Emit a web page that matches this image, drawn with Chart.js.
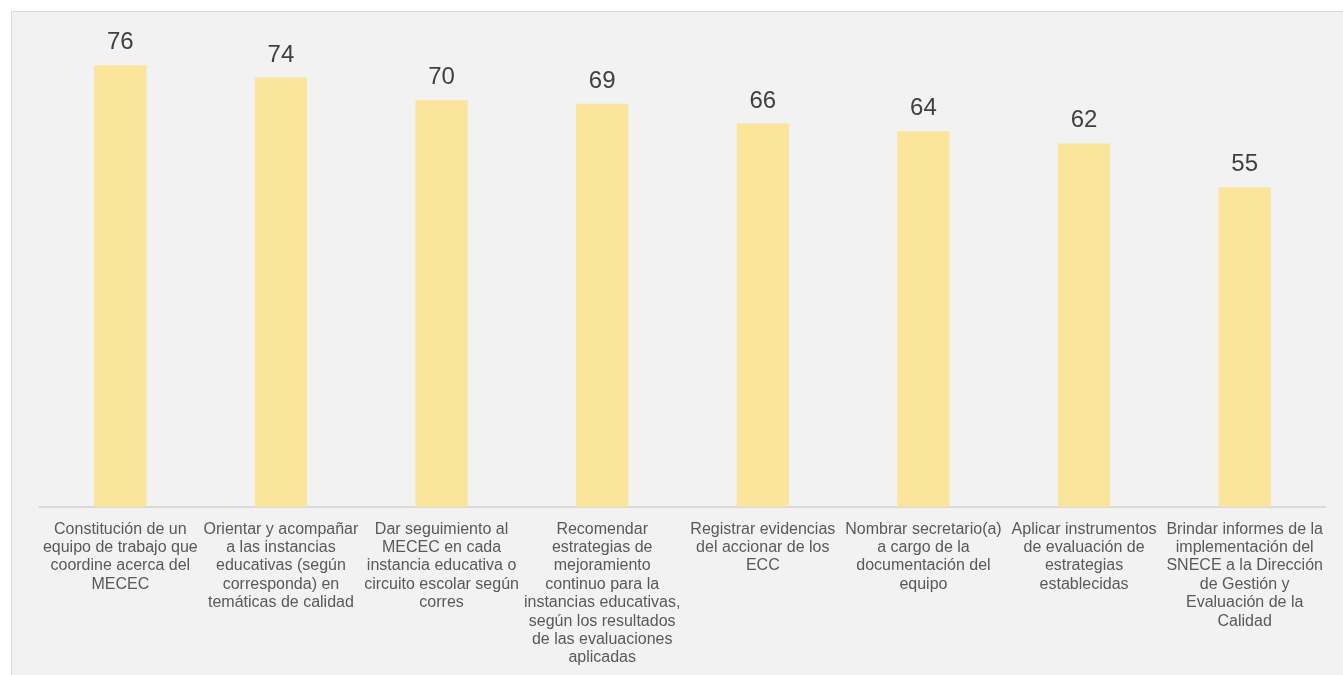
<!DOCTYPE html>
<html>
<head>
<meta charset="utf-8">
<script src="https://cdn.jsdelivr.net/npm/chart.js@4/dist/chart.umd.min.js"></script>
<style>
  body { margin: 0; background: #ffffff; }
  #marco {
    position: absolute; left: 11px; top: 11px; width: 1340px; height: 670px;
    background: #f2f2f2; border-left: 1px solid #d9d9d9; border-top: 1px solid #d9d9d9;
  }
  #grafico { position: absolute; left: 0; top: 0; }
</style>
</head>
<body>
<div id="marco"></div>
<canvas id="grafico" width="1343" height="675"></canvas>
<script>
// categorías (ya partidas en líneas como en la imagen)
var categorias = [
    ["Constitución de un", "equipo de trabajo que", "coordine acerca del", "MECEC"],
    ["Orientar y acompañar", "a las instancias", "educativas (según", "corresponda) en", "temáticas de calidad"],
    ["Dar seguimiento al", "MECEC en cada", "instancia educativa o", "circuito escolar según", "corres"],
    ["Recomendar", "estrategias de", "mejoramiento", "continuo para la", "instancias educativas,", "según los resultados", "de las evaluaciones", "aplicadas"],
    ["Registrar evidencias", "del accionar de los", "ECC"],
    ["Nombrar secretario(a)", "a cargo de la", "documentación del", "equipo"],
    ["Aplicar instrumentos", "de evaluación de", "estrategias", "establecidas"],
    ["Brindar informes de la", "implementación del", "SNECE a la Dirección", "de Gestión y", "Evaluación de la", "Calidad"]
];

var valores = [75.7, 73.6, 69.7, 69.1, 65.7, 64.4, 62.3, 54.8];

// etiquetas encima de cada barra
var etiquetasValor = {
    id: "etiquetasValor",
    afterDatasetsDraw: function (chart) {
        var ctx = chart.ctx;
        var meta = chart.getDatasetMeta(0);
        ctx.save();
        ctx.font = "24px 'Liberation Sans', Arial, sans-serif";
        ctx.fillStyle = "#404040";
        ctx.textAlign = "center";
        ctx.textBaseline = "alphabetic";
        meta.data.forEach(function (barra, i) {
            ctx.fillText(String(Math.round(valores[i])), barra.x, barra.y - 16);
        });
        ctx.restore();
    }
};

new Chart(document.getElementById("grafico"), {
    type: "bar",
    data: {
        labels: categorias,
        datasets: [{
            data: valores,
            backgroundColor: "#fbe49c",
            borderWidth: 0,
            barPercentage: 0.325,
            categoryPercentage: 1
        }]
    },
    options: {
        responsive: false,
        animation: false,
        layout: { padding: { left: 40, right: 18, top: 11, bottom: 0 } },
        plugins: { legend: { display: false }, tooltip: { enabled: false } },
        scales: {
            x: {
                grid: { display: false },
                border: { display: true, color: "#d9d9d9", width: 2 },
                ticks: {
                    autoSkip: false,
                    maxRotation: 0,
                    minRotation: 0,
                    padding: 5,
                    color: "#595959",
                    font: { family: "'Liberation Sans', Arial, sans-serif", size: 16, lineHeight: 1.15 }
                },
                afterFit: function (scale) { scale.height = 168; }
            },
            y: {
                display: false,
                min: 0,
                max: 85
            }
        }
    },
    plugins: [etiquetasValor]
});
</script>
</body>
</html>
